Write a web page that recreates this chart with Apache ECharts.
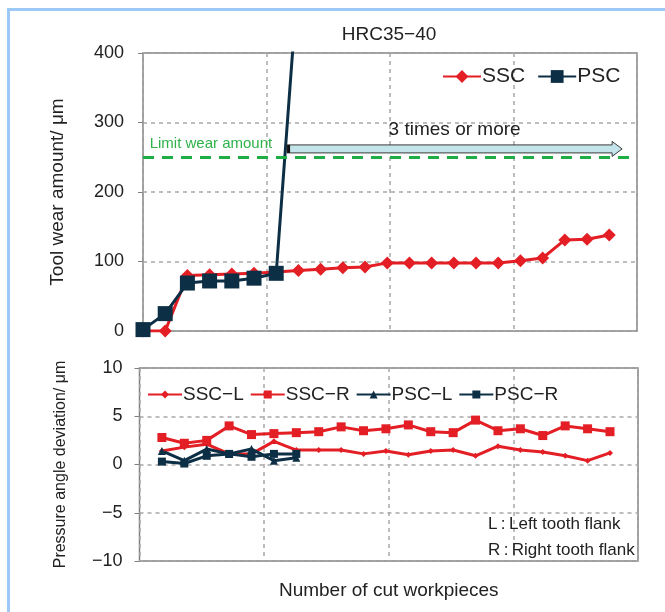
<!DOCTYPE html>
<html><head><meta charset="utf-8">
<script src="https://cdn.jsdelivr.net/npm/echarts@6/dist/echarts.min.js"></script>
<style>html,body{margin:0;padding:0;background:#fff}#c{width:665px;height:612px}</style>
</head><body><div id="c"></div>
<script>
// ---- data ----
const workpieces = [0,1,2,3,4,5,6,7,8,9,10,11,12,13,14,15,16,17,18,19,20,21];
const sscWear = [0,0,80,81,82,83,85,87,89,91,92,98,98,98,98,98,98,101,105,131,132,138];
const pscWear = [2,25,69,72,72,76,83,515];
const devWorkpieces = [1,2,3,4,5,6,7,8,9,10,11,12,13,14,15,16,17,18,19,20,21];
const sscL = [1.4,1.8,2.1,1.1,1.1,2.4,1.5,1.5,1.5,1.1,1.4,1.0,1.4,1.5,0.9,1.9,1.5,1.3,0.9,0.4,1.2];
const sscR = [2.8,2.2,2.5,4.0,3.1,3.2,3.3,3.4,3.9,3.5,3.7,4.1,3.4,3.3,4.6,3.5,3.7,3.0,4.0,3.7,3.4];
const pscL = [1.4,0.4,1.6,1.1,1.6,0.4,0.7];
const pscR = [0.3,0.1,0.9,1.1,0.8,1.1,1.1];
const limitWear = 250;
const wearTicks = [0,100,200,300,400];
const devTicks = [-10,-5,0,5,10];
const xRange = [0, 22.25];

const RED = '#e31e24', NAVY = '#0d2f45';
const FONT = 'Liberation Sans, Arial, sans-serif';
const pair = (xs, ys) => ys.map((v,i)=>[xs[i], v]);
const minus = v => v < 0 ? '\u2212' + Math.abs(v) : String(v);

const chart = echarts.init(document.getElementById('c'), null, {renderer:'canvas'});
const splitDash = {show:true, lineStyle:{color:'#a8a8a8', type:[4,4], width:1.5}};
const xAxisBase = {type:'value', min:xRange[0], max:xRange[1], interval:(xRange[1]-xRange[0])/4,
  axisLabel:{show:false}, axisTick:{show:false}, axisLine:{show:false}, splitLine:splitDash};

chart.setOption({
  animation:false,
  textStyle:{fontFamily:FONT},
  title:{text:'HRC35\u221240', left:384, textAlign:'center', top:20,
    textStyle:{fontSize:19, fontWeight:'normal', color:'#222', fontFamily:FONT}},
  grid:[
    {left:143, right:28, top:53, height:278, show:true, borderColor:'#808080', borderWidth:1.5, backgroundColor:'#fff'},
    {left:139.5, right:27, top:368, height:193, show:true, borderColor:'#808080', borderWidth:1.5, backgroundColor:'#fff'}
  ],
  xAxis:[
    Object.assign({gridIndex:0}, xAxisBase),
    Object.assign({gridIndex:1}, xAxisBase, {name:'Number of cut workpieces', nameLocation:'middle', nameGap:20,
      nameTextStyle:{fontSize:19, color:'#222', fontFamily:FONT, verticalAlign:'top'}})
  ],
  yAxis:[
    {type:'value', gridIndex:0, min:wearTicks[0], max:wearTicks[wearTicks.length-1], interval:wearTicks[1]-wearTicks[0],
      axisLine:{show:false}, axisTick:{show:true, length:5, lineStyle:{color:'#808080'}},
      axisLabel:{fontSize:18, color:'#222', margin:19, fontFamily:FONT}, splitLine:splitDash,
      name:'Tool wear amount/ \u03bcm', nameLocation:'middle', nameGap:76,
      nameTextStyle:{fontSize:19, color:'#222', fontFamily:FONT}},
    {type:'value', gridIndex:1, min:devTicks[0], max:devTicks[devTicks.length-1], interval:devTicks[1]-devTicks[0],
      axisLine:{show:false}, axisTick:{show:true, length:5, lineStyle:{color:'#808080'}},
      axisLabel:{fontSize:18, color:'#222', margin:17, fontFamily:FONT, formatter:minus}, splitLine:splitDash,
      name:'Pressure angle deviation/ \u03bcm', nameLocation:'middle', nameGap:71,
      nameTextStyle:{fontSize:16, color:'#222', fontFamily:FONT}}
  ],
  legend:[
    {data:['SSC','PSC'], left:442, top:66, itemWidth:38, itemHeight:16, itemGap:12, padding:0,
      textStyle:{fontSize:21, color:'#222', fontFamily:FONT, padding:[0,0,0,-4]}},
    {data:['SSC\u2212L','SSC\u2212R','PSC\u2212L','PSC\u2212R'], left:147, top:385, itemWidth:34, itemHeight:10, itemGap:6, padding:0,
      textStyle:{fontSize:19, color:'#222', fontFamily:FONT, padding:[0,0,0,-4]}}
  ],
  series:[
    {name:'SSC', type:'line', xAxisIndex:0, yAxisIndex:0, data:pair(workpieces, sscWear),
      color:RED, lineStyle:{width:3, color:RED}, symbol:'diamond', symbolSize:13, itemStyle:{color:RED},
      markLine:{silent:true, symbol:'none', label:{show:false},
        lineStyle:{color:'#1fae45', width:3, type:[11,8]}, data:[{yAxis:limitWear}]}},
    {name:'PSC', type:'line', xAxisIndex:0, yAxisIndex:0, data:pair(workpieces, pscWear), clip:true,
      color:NAVY, lineStyle:{width:3, color:NAVY}, symbol:'rect', symbolSize:15, itemStyle:{color:NAVY}},
    {name:'SSC\u2212L', type:'line', xAxisIndex:1, yAxisIndex:1, data:pair(devWorkpieces, sscL),
      color:RED, lineStyle:{width:3, color:RED}, symbol:'diamond', symbolSize:6, itemStyle:{color:RED}},
    {name:'SSC\u2212R', type:'line', xAxisIndex:1, yAxisIndex:1, data:pair(devWorkpieces, sscR),
      color:RED, lineStyle:{width:3, color:RED}, symbol:'rect', symbolSize:9, itemStyle:{color:RED}},
    {name:'PSC\u2212L', type:'line', xAxisIndex:1, yAxisIndex:1, data:pair(devWorkpieces, pscL),
      color:NAVY, lineStyle:{width:3, color:NAVY}, symbol:'triangle', symbolSize:8, itemStyle:{color:NAVY}},
    {name:'PSC\u2212R', type:'line', xAxisIndex:1, yAxisIndex:1, data:pair(devWorkpieces, pscR),
      color:NAVY, lineStyle:{width:3, color:NAVY}, symbol:'rect', symbolSize:8, itemStyle:{color:NAVY}}
  ]
});

// annotations positioned from the axes
const p = (x, y) => chart.convertToPixel({gridIndex:0}, [x, y]);
const aL = p(6.49, 262), aHead = p(21.13, 262), aTip = p(21.58, 262);
const cy = aL[1];
const limitPt = p(0.3, limitWear);
chart.setOption({
  graphic:[
    {type:'rect', shape:{x:8.5, y:9.5, width:700, height:700}, style:{fill:null, stroke:'#9cc9f5', lineWidth:3}, silent:true, z:100},
    {type:'text', x:limitPt[0], y:limitPt[1]-6, style:{text:'Limit wear amount', fill:'#2fb24a', fontSize:15, fontFamily:FONT, textVerticalAlign:'bottom', textAlign:'left'}, z:50},
    {type:'polygon', shape:{points:[[aL[0],cy-4],[aHead[0],cy-4],[aHead[0],cy-7.5],[aTip[0],cy],[aHead[0],cy+7.5],[aHead[0],cy+4],[aL[0],cy+4]]},
      style:{fill:'#c3e4ea', stroke:'#3a3a3a', lineWidth:1}, z:50},
    {type:'rect', shape:{x:aL[0], y:cy-4, width:3, height:8}, style:{fill:'#111'}, z:51},
    {type:'text', x:(aL[0]+aTip[0])/2, y:cy-10, style:{text:'3 times or more', fill:'#222', fontSize:19, fontFamily:FONT, textAlign:'center', textVerticalAlign:'bottom'}, z:50},
    {type:'text', x:488, y:524, style:{text:'L\u2009:\u2009Left tooth flank', fill:'#222', fontSize:17, fontFamily:FONT, textAlign:'left', textVerticalAlign:'middle'}, z:50},
    {type:'text', x:488, y:550, style:{text:'R\u2009:\u2009Right tooth flank', fill:'#222', fontSize:17, fontFamily:FONT, textAlign:'left', textVerticalAlign:'middle'}, z:50}
  ]
});
</script></body></html>
